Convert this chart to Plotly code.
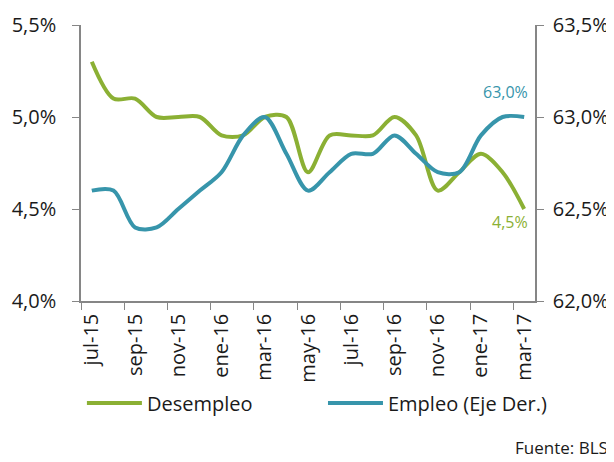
import plotly.graph_objects as go

months = ["jul-15", "ago-15", "sep-15", "oct-15", "nov-15", "dic-15",
          "ene-16", "feb-16", "mar-16", "abr-16", "may-16", "jun-16",
          "jul-16", "ago-16", "sep-16", "oct-16", "nov-16", "dic-16",
          "ene-17", "feb-17", "mar-17"]
desempleo = [5.3, 5.1, 5.1, 5.0, 5.0, 5.0, 4.9, 4.9, 5.0, 5.0, 4.7, 4.9,
             4.9, 4.9, 5.0, 4.9, 4.6, 4.7, 4.8, 4.7, 4.5]
empleo = [62.6, 62.6, 62.4, 62.4, 62.5, 62.6, 62.7, 62.9, 63.0, 62.8, 62.6, 62.7,
          62.8, 62.8, 62.9, 62.8, 62.7, 62.7, 62.9, 63.0, 63.0]
left_ticks = [4.0, 4.5, 5.0, 5.5]
right_ticks = [62.0, 62.5, 63.0, 63.5]

GREEN = "#8BB034"
BLUE = "#3795AB"
AXIS = "#868686"
TEXT = "#1a1a1a"
FONT = "Open Sans"

def pct(v):
    return f"{v:.1f}".replace(".", ",") + "%"

fig = go.Figure()
fig.add_trace(go.Scatter(x=months, y=desempleo, name="Desempleo", mode="lines",
                         legend="legend",
                         line=dict(color=GREEN, width=4, shape="spline", smoothing=0.9)))
fig.add_trace(go.Scatter(x=months, y=empleo, name="Empleo (Eje Der.)", mode="lines",
                         yaxis="y2", legend="legend2",
                         line=dict(color=BLUE, width=4, shape="spline", smoothing=0.9)))

fig.add_annotation(x=months[-1], y=empleo[-1], yref="y2", text=pct(empleo[-1]),
                   showarrow=False, xanchor="right", xshift=6, yshift=25,
                   font=dict(family=FONT, size=16, color=BLUE))
fig.add_annotation(x=months[-1], y=desempleo[-1], yref="y", text=pct(desempleo[-1]),
                   showarrow=False, xanchor="right", xshift=6, yshift=-13,
                   font=dict(family=FONT, size=16, color=GREEN))
fig.add_annotation(xref="paper", yref="paper", x=1.165, y=-0.529, text="Fuente: BLS",
                   showarrow=False, xanchor="right", yanchor="middle",
                   font=dict(family=FONT, size=17, color=TEXT))

legend_common = dict(orientation="h", y=-0.37, yanchor="middle", xanchor="left",
                     font=dict(family=FONT, size=20, color=TEXT),
                     itemwidth=55, bgcolor="rgba(0,0,0,0)")

fig.update_layout(
    width=606, height=454,
    margin=dict(l=73, r=79, t=17, b=161, autoexpand=False),
    paper_bgcolor="white", plot_bgcolor="white",
    font=dict(family=FONT, color=TEXT),
    showlegend=True,
    legend=dict(x=0.002, **legend_common),
    legend2=dict(x=0.533, **legend_common),
    xaxis=dict(type="category", range=[-0.5, len(months) - 0.5], automargin=False,
               tickmode="linear", tick0=0, dtick=2, tickson="boundaries",
               tickangle=-90, ticks="outside", ticklen=7, tickcolor=AXIS,
               ticklabelstandoff=3,
               showline=True, linecolor=AXIS, linewidth=1.5, showgrid=False,
               zeroline=False, tickfont=dict(family=FONT, size=20, color=TEXT)),
    yaxis=dict(range=[4.0, 5.5], tickvals=left_ticks, ticktext=[pct(v) for v in left_ticks],
               automargin=False, ticklabelstandoff=12,
               ticks="outside", ticklen=7, tickcolor=AXIS, showline=True, linecolor=AXIS,
               linewidth=1.5, showgrid=False, zeroline=False,
               tickfont=dict(family=FONT, size=20, color=TEXT)),
    yaxis2=dict(range=[62.0, 63.5], tickvals=right_ticks, ticktext=[pct(v) for v in right_ticks],
                automargin=False, ticklabelstandoff=5,
                overlaying="y", side="right", ticks="outside", ticklen=7, tickcolor=AXIS,
                showline=True, linecolor=AXIS, linewidth=1.5, showgrid=False, zeroline=False,
                tickfont=dict(family=FONT, size=20, color=TEXT)),
)

fig.write_html("out.html")
